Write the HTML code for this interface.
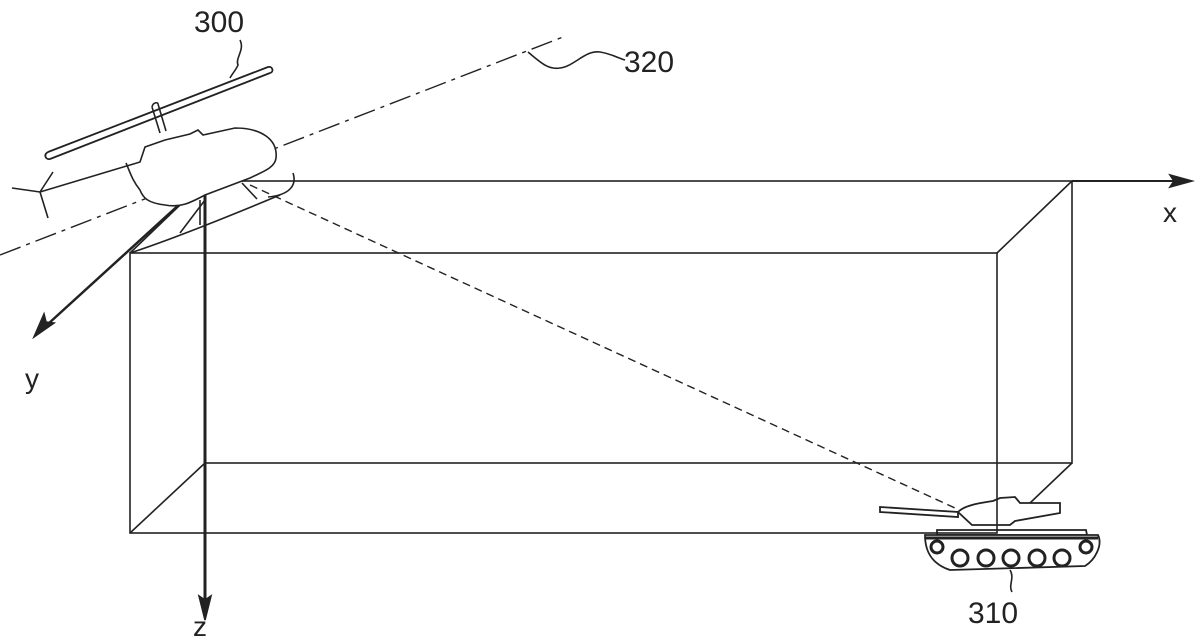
<!DOCTYPE html>
<html><head><style>body{margin:0;background:#fff}svg{display:block}text{font-family:"Liberation Sans",sans-serif;fill:#222}</style></head><body>
<svg width="1200" height="641" viewBox="0 0 1200 641" fill="none" stroke="#222" stroke-width="1.6">
<!-- box -->
<rect x="205" y="181" width="867" height="282"/>
<rect x="130" y="253" width="867" height="280"/>
<line x1="130" y1="253" x2="205" y2="181"/>
<line x1="997" y1="253" x2="1072" y2="181"/>
<line x1="130" y1="533" x2="205" y2="463"/>
<line x1="1072" y1="463" x2="1030" y2="503"/>
<!-- axes -->
<line x1="1072" y1="181" x2="1180" y2="181" stroke-width="2"/>
<path d="M1192,181 L1170,175 L1174,181 L1170,187 Z" fill="#222"/>
<line x1="205" y1="181" x2="205" y2="605" stroke-width="3"/>
<path d="M205,620 L199,596 L205,600 L211,596 Z" fill="#222"/>
<line x1="205" y1="181" x2="48" y2="324" stroke-width="2.5"/>
<path d="M34,337 L44,314 L46,322 L54,323 Z" fill="#222"/>
<text x="1163" y="222" font-size="28" stroke="none">x</text>
<text x="25" y="388" font-size="28" stroke="none">y</text>
<text x="193" y="636" font-size="28" stroke="none">z</text>
<!-- dash-dot 320 -->
<line x1="0" y1="255" x2="563" y2="37" stroke-dasharray="22,6,4,6" stroke-width="1.4"/>
<path d="M528,52 C540,62 548,70 560,68 C575,66 585,50 600,52 C612,54 618,58 625,60"/>
<text x="624" y="72" font-size="30" stroke="none">320</text>
<!-- dashed line of sight -->
<line x1="250" y1="185" x2="955" y2="508" stroke-dasharray="8,5" stroke-width="1.4"/>
<!-- helicopter -->
<text x="194" y="32" font-size="30" stroke="none">300</text>
<path d="M240,40 C245,50 235,58 238,65 C236,70 232,74 230,78"/>
<path d="M48,152 L268,67 M50,159 L270,73 M48,152 C43,155 46,160 50,159 M268,67 C273,66 274,72 270,73" stroke-width="1.8"/>
<path d="M152,107 L160,133 M158,104 L166,131 M152,107 C153,102 158,102 158,104" stroke-width="1.6"/>
<path d="M40,192 L140,162 L145,147 L165,140 L190,134 L198,130 L203,135 L235,128 C262,128 278,140 276,158 C275,168 262,172 250,178 L205,195 C190,203 180,208 165,205 C148,203 143,198 140,190 C132,180 130,172 126,163" stroke-width="1.6" fill="#fff"/>
<path d="M40,192 L53,172 M40,192 L12,188 M40,192 L48,218" stroke-width="1.6"/>
<path d="M293,173 C297,185 290,195 268,197" stroke-width="1.6"/>
<path d="M205,200 L180,233 M130,253 C170,240 220,220 280,195 M242,183 L257,199" stroke-width="1.6"/>
<path d="M200,200 L200,225" stroke-width="1.6"/>
<!-- tank -->
<g stroke-width="1.8">
<path d="M880,507 L958,512 L958,517 L880,512 Z"/>
<path d="M958,512 C965,505 980,503 993,501 L1000,498 L1015,497 L1020,503 L1060,503 L1060,513 L1015,521 L1010,525 L972,525 Z"/>
<path d="M937,530 L1086,530 L1087,535 L937,535 Z"/>
<path d="M925,535 L1098,535 C1103,545 1095,560 1085,566 L950,570 C935,565 925,555 925,535 Z" fill="#fff"/>
<path d="M925,538 L1098,538" stroke-width="3"/>
</g>
<g stroke-width="3" fill="#fff">
<circle cx="937" cy="547" r="6"/>
<circle cx="960" cy="558" r="8"/><circle cx="986" cy="558" r="8"/><circle cx="1011" cy="558" r="8"/><circle cx="1037" cy="558" r="8"/><circle cx="1062" cy="558" r="8"/>
<circle cx="1086" cy="547" r="6"/>
</g>
<path d="M1010,570 C1015,578 1008,585 1012,592"/>
<text x="968" y="623" font-size="30" stroke="none">310</text>
</svg>
</body></html>
